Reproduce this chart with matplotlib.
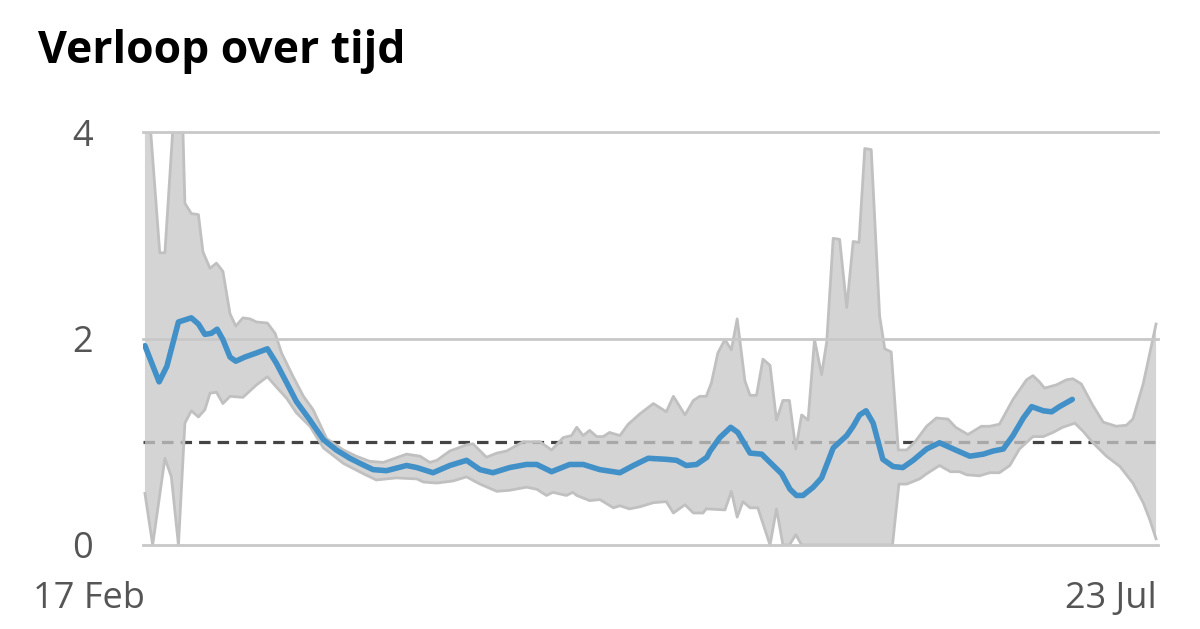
import numpy as np
import matplotlib
matplotlib.use("Agg")
import matplotlib.pyplot as plt

plt.rcParams['font.family'] = ['Open Sans', 'DejaVu Sans']

# days since 17 Feb
line_day = [0.0, 2.2, 3.4, 5.2, 7.2, 8.3, 9.3, 10.3, 11.2, 12.1, 13.2, 14.1, 15.5, 17.3, 19.0,
            20.4, 22.0, 23.5, 25.6, 27.7, 29.7, 31.8, 33.4, 35.4, 37.5, 40.6, 42.2, 44.7, 47.3,
            49.9, 52.0, 54.0, 56.6, 59.2, 60.8, 63.1, 65.9, 68.0, 70.6, 73.7, 75.8, 78.1, 80.9,
            82.5, 84.0, 85.6, 87.2, 87.7, 89.2, 90.9, 92.0, 93.9, 95.7, 97.0, 98.8, 100.1, 101.1,
            102.1, 103.7, 105.0, 106.8, 108.9, 109.9, 110.9, 111.9, 113.0, 114.5, 116.1, 117.6,
            119.2, 121.3, 123.3, 125.8, 128.0, 130.1, 131.6, 133.2, 134.7, 136.3, 137.6, 139.4,
            140.7, 141.9, 143.9]
line_r = [1.93, 1.58, 1.73, 2.16, 2.20, 2.14, 2.04, 2.05, 2.09, 1.99, 1.82, 1.78, 1.82, 1.86, 1.90,
          1.76, 1.57, 1.39, 1.21, 1.02, 0.92, 0.84, 0.79, 0.73, 0.72, 0.77, 0.75, 0.70, 0.77,
          0.82, 0.73, 0.70, 0.75, 0.78, 0.78, 0.71, 0.78, 0.78, 0.73, 0.70, 0.77, 0.84, 0.83,
          0.82, 0.77, 0.78, 0.85, 0.91, 1.04, 1.14, 1.09, 0.89, 0.88, 0.80, 0.69, 0.54, 0.48,
          0.48, 0.56, 0.65, 0.94, 1.06, 1.15, 1.26, 1.30, 1.18, 0.83, 0.76, 0.75,
          0.82, 0.93, 0.99, 0.92, 0.86, 0.88, 0.91, 0.93, 1.06, 1.23, 1.34, 1.30,
          1.29, 1.34, 1.41]

upper_day = [0.0, 0.9, 2.3, 3.1, 4.3, 5.9, 6.2, 7.2, 8.3, 9.0, 10.1, 11.1, 12.1, 13.2, 14.1, 15.2,
             16.3, 17.3, 19.0, 20.2, 21.2, 23.0, 24.6, 26.1, 28.2, 30.8, 32.8, 34.9, 37.0, 40.6,
             42.7, 44.2, 45.3, 47.3, 49.9, 50.9, 53.0, 54.6, 56.1, 58.7, 61.3, 63.1, 64.9, 66.2,
             67.0, 68.0, 69.0, 70.1, 71.1, 72.1, 73.7, 75.0, 76.8, 78.9, 80.9, 82.0, 83.8, 85.1,
             86.1, 87.1, 87.9, 88.9, 90.0, 91.0, 91.9, 93.1, 93.9, 94.9, 95.9, 97.0, 98.0, 99.0,
             100.0, 101.0, 101.9, 102.9, 103.9, 105.0, 105.8, 106.8, 107.8, 108.9, 109.9, 110.8,
             111.7, 112.7, 114.0, 114.8, 115.8, 116.9, 118.2, 119.5, 121.3, 122.8, 124.6, 125.8,
             127.7, 129.8, 131.1, 132.6, 134.7, 136.8, 137.8, 138.8, 139.6, 141.4, 143.0, 144.0,
             145.3, 147.1, 148.7, 150.7, 152.3, 153.3, 154.9, 156.9]
upper_r = [4.0, 4.0, 2.83, 2.83, 4.0, 4.0, 3.31, 3.21, 3.20, 2.84, 2.68, 2.73, 2.65, 2.24, 2.12, 2.20,
           2.19, 2.16, 2.15, 2.05, 1.86, 1.63, 1.44, 1.31, 1.03, 0.92, 0.86, 0.81, 0.80, 0.88,
           0.86, 0.80, 0.82, 0.91, 0.97, 0.98, 0.85, 0.89, 0.91, 1.00, 1.00, 0.92, 1.04, 1.06,
           1.14, 1.06, 1.11, 1.05, 1.05, 1.09, 1.06, 1.17, 1.27, 1.37, 1.29, 1.44, 1.26, 1.40,
           1.44, 1.44, 1.57, 1.86, 1.99, 1.89, 2.19, 1.59, 1.45, 1.45, 1.80, 1.74, 1.21, 1.40,
           1.40, 0.93, 1.26, 1.21, 1.99, 1.65, 1.97, 2.97, 2.96, 2.30, 2.94, 2.93,
           3.84, 3.83, 2.22, 1.90, 1.87, 0.92, 0.92, 1.00, 1.15, 1.23, 1.22, 1.14,
           1.07, 1.15, 1.15, 1.17, 1.41, 1.60, 1.64, 1.58, 1.52, 1.55, 1.60, 1.61,
           1.56, 1.35, 1.19, 1.15, 1.16, 1.22, 1.56, 2.14]

lower_day = [0.0, 1.2, 3.1, 4.1, 5.2, 6.2, 7.2, 8.3, 9.3, 10.1, 11.1, 12.1, 13.2, 15.2, 17.3, 19.0,
             20.4, 22.0, 23.5, 25.6, 27.7, 30.8, 33.9, 35.9, 39.0, 42.2, 43.2, 45.3, 47.8, 49.9,
             52.0, 54.6, 56.6, 59.2, 60.8, 62.3, 63.3, 65.4, 66.4, 67.0, 69.0, 70.6, 72.7, 73.7,
             75.2, 76.8, 78.9, 80.9, 82.0, 83.8, 85.1, 86.6, 87.1, 90.0, 91.0, 91.9, 92.8, 93.9,
             95.1, 97.0, 98.0, 99.0, 100.0, 101.0, 101.9, 116.0, 117.0, 118.2, 120.2, 121.3, 123.3,
             125.0, 126.4, 127.5, 129.5, 131.1, 132.6, 134.2, 135.7, 137.8, 139.4, 140.9, 142.4,
             144.3, 145.6, 147.1, 149.2, 151.3, 153.3, 154.9, 155.9, 156.9]
lower_r = [0.50, 0.0, 0.84, 0.66, 0.0, 1.18, 1.30, 1.24, 1.31, 1.47, 1.48, 1.37, 1.44, 1.43, 1.55, 1.63,
           1.53, 1.42, 1.28, 1.15, 0.94, 0.79, 0.69, 0.63, 0.65, 0.64, 0.61, 0.60, 0.62, 0.66,
           0.59, 0.52, 0.53, 0.56, 0.54, 0.48, 0.51, 0.48, 0.51, 0.48, 0.43, 0.44, 0.36, 0.38,
           0.35, 0.37, 0.41, 0.42, 0.31, 0.39, 0.31, 0.31, 0.35, 0.34, 0.52, 0.27, 0.42, 0.36,
           0.36, 0.0, 0.35, 0.0, 0.0, 0.10, 0.0, 0.0, 0.59, 0.59, 0.64, 0.69, 0.77,
           0.71, 0.71, 0.68, 0.67, 0.70, 0.70, 0.77, 0.93, 1.05, 1.05, 1.09, 1.14,
           1.18, 1.10, 0.99, 0.86, 0.76, 0.60, 0.41, 0.25, 0.06]

x_ticks = [0, 157]
x_labels = ["17 Feb", "23 Jul"]
y_ticks = [0, 2, 4]

fig = plt.figure(figsize=(12, 6.29), dpi=100)
ax = fig.add_axes([143 / 1200, 1 - 545 / 629, 1015 / 1200, 413 / 629])

# reference line at R = 1 (under the band)
ax.axhline(1, color='#444444', lw=2.3, dashes=(3.6, 2.2), zorder=1)

# uncertainty band as one polygon
band_x = np.concatenate([upper_day, lower_day[::-1]])
band_y = np.concatenate([upper_r, lower_r[::-1]])
ax.fill(band_x, band_y, facecolor='#c7c7c7', alpha=0.77, edgecolor='none', zorder=2)
ax.plot(upper_day, upper_r, color='#c0c0c0', lw=2, zorder=2)
ax.plot(lower_day, lower_r, color='#c0c0c0', lw=2, zorder=2)

for y in y_ticks:
    ax.axhline(y, color='#c8c8c8', lw=2, zorder=3, clip_on=False)

ax.plot(line_day, line_r, color='#4190c8', lw=4, solid_capstyle='round', zorder=4)

ax.set_xlim(-0.3, 157.2)
ax.set_ylim(0, 4)
for s in ax.spines.values():
    s.set_visible(False)

ax.set_yticks(y_ticks)
ax.set_yticklabels([str(v) for v in y_ticks])
ax.set_xticks(x_ticks)
ax.set_xticklabels(x_labels)
for lab in ax.get_xticklabels():
    lab.set_horizontalalignment('right')
ax.tick_params(axis='both', length=0, labelsize=26, colors='#555555')
ax.tick_params(axis='y', pad=36)
ax.tick_params(axis='x', pad=26)

fig.text(38 / 1200, 1 - 51 / 629, "Verloop over tijd", fontsize=32, fontweight='bold',
         color='black', va='center', ha='left')

fig.savefig("out.png", dpi=100)
